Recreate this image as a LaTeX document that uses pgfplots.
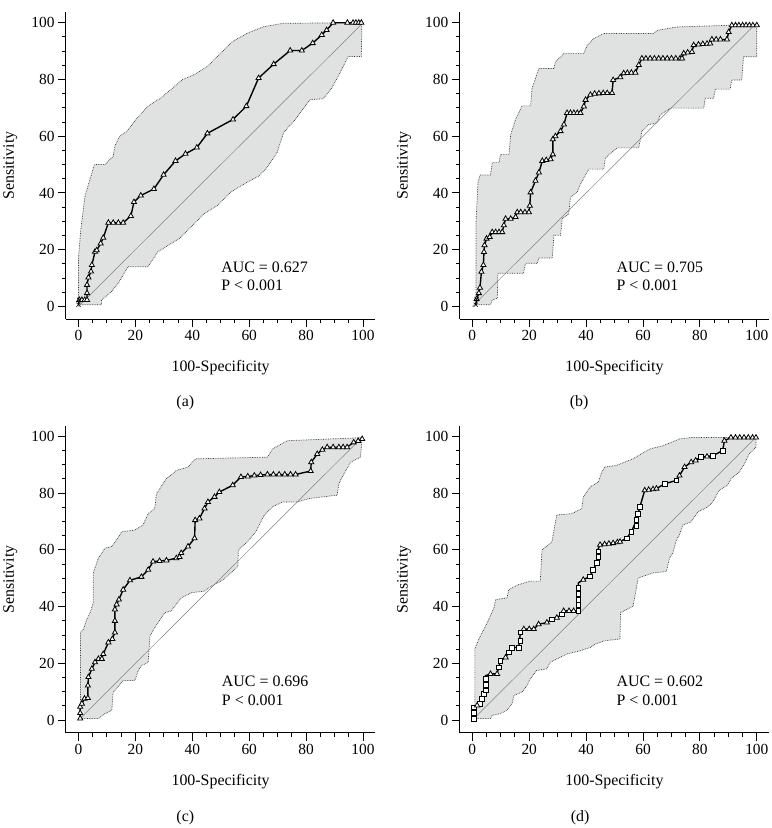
\documentclass[border=0pt]{standalone}
\usepackage{pgfplots}
\pgfplotsset{compat=1.18}
\usepgfplotslibrary{fillbetween}
\usepackage{fontspec}
\setmainfont{Liberation Serif}
\definecolor{band}{HTML}{E0E1E1}
\tikzset{auc/.style={anchor=west, font=\fontsize{16}{19}\selectfont}}
\pgfplotsset{
 rocax/.style={
  scale only axis, width=311pt, height=309pt,
  xmin=-4.4, xmax=104.3, ymin=-4.5, ymax=103.8,
  axis lines=left, axis line style={-, line width=1pt},
  xtick={0,20,...,100}, ytick={0,20,...,100},
  minor x tick num=3, minor y tick num=3,
  tick align=outside, major tick length=8pt, minor tick length=4pt,
  every tick/.style={black, line width=1pt},
  tick label style={font=\fontsize{15.5}{18}\selectfont},
  /pgf/number format/assume math mode=true,
  label style={font=\fontsize{16}{19}\selectfont},
  xlabel={100-Specificity}, ylabel={Sensitivity},
  xlabel style={at={(axis description cs:0.5,-0.159)}, anchor=center},
  ylabel style={at={(axis description cs:-0.18,0.5)}, anchor=center},
  clip=false,
 },
 bandline/.style={densely dotted, black!80, line width=0.7pt},
 diag/.style={black!50, line width=0.5pt},
 roc/.style={black, line width=1.4pt, mark=triangle*, mark size=3pt,
   mark options={fill=white, draw=black, line width=0.8pt, solid}},
}
\begin{document}
\begin{tikzpicture}
\path (0,0) rectangle (771pt,-828pt);
% ---------------- (a)
\begin{axis}[rocax, at={(64pt,-321pt)}, anchor=south west]
\addplot[bandline, name path=up] coordinates {(0,0.6)(0,17)(0.8,27)(2.3,39)(5.6,50)(9.3,50)(12.2,53)(12.8,56.6)(14.5,60)(16.9,61.6)(20.3,66)(24.4,70.6)(29,73.5)(33.1,77)(36.6,80)(40.7,81.7)(45.3,84.6)(49.4,88.7)(54,93.3)(59.3,96.3)(65.1,98.6)(72,99.8)(99.4,100)};
\addplot[bandline, name path=lo] coordinates {(0,0.6)(8.1,0.6)(8.1,2.3)(11.6,5.2)(14,8.2)(17.4,14)(24.4,14)(27.9,19.3)(32.6,22.2)(35.5,24)(40.1,28.6)(44.2,32.7)(48.8,35.6)(53.5,40.3)(59.3,43.8)(63.4,46)(66.3,49)(69.8,54.3)(72.1,61.3)(76.2,65.9)(81.4,72.9)(86,73.2)(89,77)(91.9,82.3)(94.8,88.1)(99.4,88.1)(99.6,100)};
\addplot[band, draw=none] fill between[of=up and lo];
\addplot[diag] coordinates {(0,0)(100,100)};
\addplot[roc] coordinates {(0.3,2.3)(1.2,2.3)(2.2,2.3)(3,2.3)(3,4.7)(3,7.6)(3.5,10.2)(4.4,12.3)(4.7,14.6)(5.8,19.3)(6.4,19.8)(7.8,22.2)(8.7,24.2)(10.5,29.5)(12.2,29.5)(14,29.5)(15.7,29.5)(18.4,31.9)(19.5,36.8)(21.9,39.1)(26.5,41.4)(29.9,46.4)(34.1,51.3)(37.6,53.8)(41.6,56)(45.3,61)(54.3,65.9)(59,70.6)(63.3,80.5)(68.6,85.4)(74.4,90.2)(78.5,90.2)(82.3,92.8)(85.5,95.7)(87.2,97.4)(89.5,100)(94.5,100)(96.5,100)(97.5,100)(98.5,100)(99.4,100)};
\addplot[black, line width=1.4pt, mark=x, mark size=3pt, mark options={line width=0.6pt}] coordinates {(0,0.6)(0.3,2.3)};
\node[auc] at (axis cs:49,13.9) {AUC = 0.627};
\node[auc] at (axis cs:49,7.3) {P < 0.001};
\end{axis}
% ---------------- (b)
\begin{axis}[rocax, at={(460pt,-321pt)}, anchor=south west]
\addplot[bandline, name path=up] coordinates {(1.3,0.6)(1.3,29.7)(2,43.7)(2.7,46.3)(6.4,46.3)(7,50.7)(9.4,50.7)(9.9,53.6)(12.9,53.6)(13.5,60.6)(15.2,65.9)(17.5,70.7)(20.5,70.7)(21,76.9)(22.2,80.4)(23.4,83.9)(28.7,83.9)(29.2,86.2)(32.2,89.2)(39.2,89.2)(40.4,92.1)(42.7,94.4)(46.2,96.2)(63.7,96.2)(64.9,97.3)(71.9,98.5)(100,99.4)};
\addplot[bandline, name path=lo] coordinates {(1.3,0.6)(6.4,0.6)(7,2.3)(8.8,2.9)(9,11.7)(18,11.7)(18.7,15.2)(22.8,15.2)(23.4,17.1)(28.1,17.1)(28.7,25.1)(31,25.1)(31.6,30.9)(33.9,32.6)(34.5,38.5)(36.8,40.2)(38,43.1)(40.9,48.4)(46.2,48.4)(46.8,52.4)(50.9,55.9)(58.5,55.9)(59.6,61.8)(62,64.1)(64.9,64.7)(66.1,67.6)(69.6,69.9)(81.3,69.9)(81.9,73.4)(84.8,73.4)(85.4,76.6)(90.6,76.6)(91.2,79.8)(94.7,79.8)(95.3,88)(100,88)(100,99.4)};
\addplot[band, draw=none] fill between[of=up and lo];
\addplot[diag] coordinates {(0,0)(100,100)};
\addplot[roc] coordinates {(1.5,2.6)(2.3,4.7)(2.7,6.6)(3.2,12.2)(3.9,14.6)(4.1,19.2)(4.3,21.6)(5,23.9)(6.1,24.5)(7,26.2)(8.2,26.2)(9.4,26.2)(10.5,26.2)(11.1,28.6)(11.7,30.9)(13.5,30.9)(15.2,31.5)(15.8,33.2)(17,33.2)(18.5,33.2)(19.9,33.2)(20.2,35.5)(20.5,40.2)(22.2,44.3)(23.4,47.2)(24.6,51.3)(26,51.6)(27.5,51.9)(28.3,53.6)(28.3,58.9)(29.2,60)(31,61.8)(32.2,64.1)(33.3,68.2)(34.5,68.2)(35.7,68.2)(36.9,68.2)(38,68.2)(39.2,70.5)(39.8,72.8)(41.5,74.6)(43,75)(44.5,75.1)(46,75.2)(47.4,75.2)(49.1,75.2)(49.5,79.8)(52,80.8)(53.2,82.2)(54.5,82.3)(55.9,82.4)(57.3,82.4)(58.5,85.1)(59.6,87.4)(61,87.4)(62.5,87.4)(64,87.4)(65.5,87.4)(67,87.4)(68.5,87.4)(70,87.4)(71.5,87.4)(73,87.4)(73.7,87.4)(74.3,89.2)(75.7,89.5)(77.2,89.7)(77.8,92.1)(79.5,92.3)(81,92.5)(82.5,92.6)(83.6,92.7)(84.2,94.1)(85.7,94.1)(87.2,94.1)(89.5,94.1)(90.1,96.7)(91.2,99.1)(92.5,99.1)(93.7,99.1)(95,99.1)(96.2,99.1)(97.4,99.1)(98.6,99.1)(100,99.1)};
\addplot[black, line width=1.4pt, mark=x, mark size=3pt, mark options={line width=0.6pt}] coordinates {(1.2,0.6)(1.5,2.6)};
\node[auc] at (axis cs:49.5,13.9) {AUC = 0.705};
\node[auc] at (axis cs:49.5,7.3) {P < 0.001};
\end{axis}
% ---------------- (c)
\begin{axis}[rocax, at={(64pt,-737pt)}, anchor=south west]
\addplot[bandline, name path=up] coordinates {(0.7,0.6)(0.7,30.9)(1.7,32)(2.9,35.5)(4.1,37.9)(5.2,41.4)(5.2,51.9)(7,57.1)(9.3,60.6)(11.7,61.2)(13.4,63.5)(15.2,66.4)(19.8,67)(22.7,68.8)(24.5,72.8)(26.8,74.6)(27.4,79.8)(30.9,85.1)(34.4,88)(38.5,89.2)(41.1,92.1)(66.4,92.7)(68.2,95.6)(73.4,98.5)(95.6,99.4)(99.7,99.6)};
\addplot[bandline, name path=lo] coordinates {(0.7,0.6)(7,0.6)(9.3,2.3)(11.7,3.5)(12.2,9.9)(12.8,10.5)(15.7,14)(19.8,14)(21,17.5)(22.1,19.2)(24.5,20.4)(25.1,29.7)(26.8,32.6)(30.3,37.9)(32.6,38.5)(36.1,43.1)(39.6,44.9)(44.3,45.5)(46.6,47.2)(50.1,49)(53.6,51.9)(56,54.2)(56.2,60)(59.4,62.9)(62.3,66.4)(65.3,72.3)(68.2,75.2)(71.7,76.9)(76.9,76.9)(81,78.1)(90.9,79.3)(91.5,83.3)(92.7,85.7)(95.6,90.9)(99.1,92.7)(99.7,99.6)};
\addplot[band, draw=none] fill between[of=up and lo];
\addplot[diag] coordinates {(0,0)(100,100)};
\addplot[roc] coordinates {(0.6,0.6)(0.6,2.5)(0.6,4.7)(1.2,5.8)(2.1,7.6)(3.3,7.8)(3.3,12.2)(3.5,15.2)(4.7,18.1)(5.8,20.4)(7,21.6)(8.2,21.6)(8.7,23.3)(10.5,27.4)(11.9,28.6)(12.8,30.9)(12.8,35)(12.8,39)(13.4,40.8)(14.2,42.5)(15.7,46)(18.1,49.3)(22.1,50.5)(24.5,53)(26.2,55.9)(28.5,56.1)(30.9,56.3)(34.4,57.1)(35.5,57.5)(36.1,58.9)(38.5,61.2)(40.8,64.1)(41,70.5)(42.5,71.1)(44.3,74.6)(45.5,76.9)(47.8,78.7)(49.5,80.4)(54.2,82.8)(57.1,85.7)(59.5,85.9)(61.8,86.2)(64,86.4)(66.4,86.6)(68.5,86.6)(70.5,86.6)(72.5,86.6)(74.5,86.6)(76.3,86.6)(81.6,87.8)(81.8,90.9)(83.9,93.8)(85.7,95.3)(87.4,96.2)(89.5,96.2)(91.5,96.2)(93,96.2)(94.4,96.2)(96.7,97.9)(98.3,98.4)(99.7,99.1)};
\node[auc] at (axis cs:49.2,13.6) {AUC = 0.696};
\node[auc] at (axis cs:49.2,7.0) {P < 0.001};
\end{axis}
% ---------------- (d)
\begin{axis}[rocax, at={(460pt,-737pt)}, anchor=south west]
\addplot[bandline, name path=up] coordinates {(0.9,0.6)(0.9,25.1)(2.3,28.6)(4.1,32.1)(5.8,35.5)(7.6,39.6)(8.2,42.5)(12.2,43.1)(12.8,46)(16.3,47.8)(20.4,49)(23.9,49)(24.5,60)(28,62.9)(28.6,66.4)(29.7,72.3)(35,72.8)(38.5,74.6)(39,78.7)(41.4,82.2)(44.3,83.9)(45.5,87.4)(46.6,89.2)(50.7,89.8)(56.5,92.1)(62.4,95.6)(67,96.7)(72.8,99.1)(76.9,99.6)(99.7,99.6)};
\addplot[bandline, name path=lo] coordinates {(0.9,0.6)(6.4,0.6)(7,1.7)(9.9,2.3)(12.2,3.5)(14,5.8)(14.6,8.7)(17.5,9.9)(19.2,12.2)(20.4,14.6)(22.6,17.5)(26.2,18.1)(27.4,20.4)(29.7,21.6)(33.2,23.3)(37.9,24.5)(41.4,25.6)(43.1,26.8)(46.6,28)(51.9,28.6)(52.1,37.9)(56.5,40.2)(58.3,50.1)(63.5,51.9)(68.2,52.4)(69.3,57.1)(70.5,58.9)(71.7,63.5)(72.8,65.3)(74,68.8)(76.9,69.9)(79.3,73.4)(82.8,75.2)(84.5,76.9)(86.8,81)(89.7,82.8)(90.9,85.1)(93.8,87.4)(95.6,90.3)(97.3,93.8)(99.7,96.2)(99.7,99.6)};
\addplot[band, draw=none] fill between[of=up and lo];
\addplot[diag] coordinates {(0,0)(100,100)};
\addplot[black, line width=1.4pt] coordinates {(0.6,0)(0.6,4.7)(1.7,5.2)(2.7,5.8)(3.5,7.6)(4.1,9.3)(4.7,10.5)(4.7,15.7)(6.4,16.3)(8.7,16.3)(9.3,18.6)(9.9,21)(11.7,22.1)(12.8,23.9)(14,25.6)(16.3,25.6)(16.9,30.9)(18.1,32.1)(21.6,32.1)(23.3,33.8)(26.2,34.4)(28,35.5)(29.7,36.1)(31.5,37.3)(32.1,38.5)(37.3,38.5)(37.3,48.4)(39,49.5)(41.4,50.7)(42.5,53)(43.7,55.4)(44.3,60.6)(44.9,61.8)(51.9,62.9)(54.2,64.1)(55.9,66.4)(57.7,70.5)(58.9,75.2)(60.6,81)(64.7,81.6)(67.6,83.3)(71.7,84.5)(72.8,86.2)(74.6,89.2)(76.9,90.9)(80.4,92.7)(84.5,93.2)(88,95)(88.6,98.5)(90.9,99.6)(99.7,99.6)};
\addplot[only marks, mark=square*, mark size=2.4pt, mark options={fill=white, draw=black, line width=0.8pt}] coordinates {(0.6,0.5)(0.6,2.5)(0.6,4.5)(2.7,5.8)(3.5,7.6)(4.1,9.3)(4.7,10.5)(4.7,12.5)(4.7,14.5)(9.3,18.6)(9.9,21)(12.8,23.9)(14,25.6)(16.3,25.6)(16.9,28)(16.9,30.9)(28,35.5)(31.5,37.3)(37.3,38.5)(37.3,40.5)(37.3,42.5)(37.3,44.5)(37.3,46.5)(41.4,50.7)(42.5,53)(43.7,55.4)(44.3,57.5)(44.3,59.5)(54.2,64.1)(55.9,66.4)(57.7,68.5)(57.7,70.5)(58.3,72.8)(58.9,75.2)(67.6,83.3)(71.7,84.5)(80.4,92.7)(84.5,93.2)(88,95)};
\addplot[only marks, mark=triangle*, mark size=3pt, mark options={fill=white, draw=black, line width=0.8pt}] coordinates {(1.7,5.2)(6.4,16.3)(8.7,16.3)(11.7,22.1)(18.1,32.1)(20,32.1)(21.6,32.1)(23.3,33.8)(26.2,34.4)(29.7,36.1)(32.1,38.5)(34,38.5)(35.6,38.5)(39,49.5)(44.9,61.8)(46.5,62)(48,62.2)(49.5,62.4)(51,62.7)(51.9,62.9)(60.6,81)(62,81.2)(63.5,81.4)(64.7,81.6)(72.8,86.2)(74.6,89.2)(76.9,90.9)(78.5,91.5)(82.5,92.9)(88.6,98.5)(90.9,99.6)(92.5,99.6)(94,99.6)(95.5,99.6)(97,99.6)(98.5,99.6)(99.7,99.6)};
\node[auc] at (axis cs:49.5,13.6) {AUC = 0.602};
\node[auc] at (axis cs:49.5,7.0) {P < 0.001};
\end{axis}
\node[font=\fontsize{16}{19}\selectfont] at (184pt,-405pt) {(a)};
\node[font=\fontsize{16}{19}\selectfont] at (580pt,-405pt) {(b)};
\node[font=\fontsize{16}{19}\selectfont] at (184pt,-822pt) {(c)};
\node[font=\fontsize{16}{19}\selectfont] at (581pt,-822pt) {(d)};
\end{tikzpicture}
\end{document}
